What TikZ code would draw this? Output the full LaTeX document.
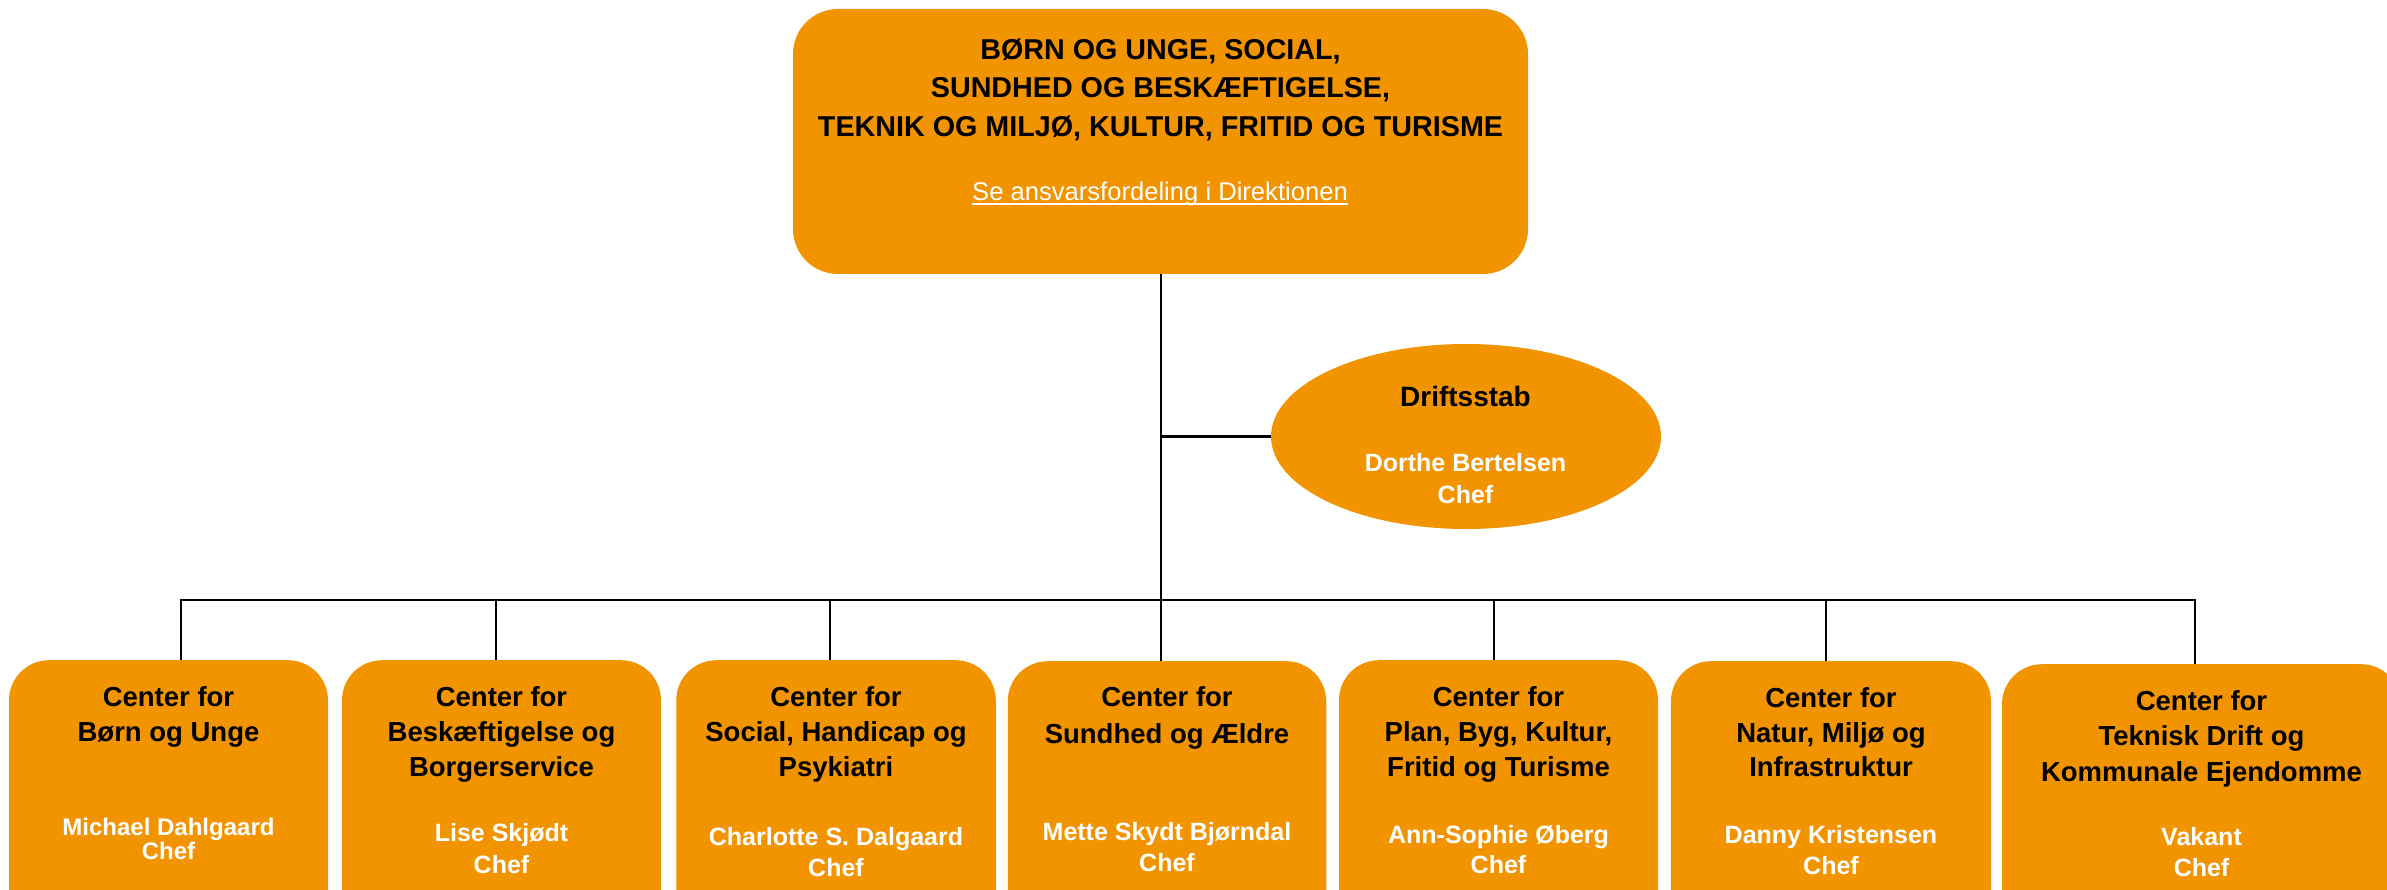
\documentclass[tikz,border=0pt]{standalone}
\usepackage{fontspec}
\setmainfont{Liberation Sans}
\usetikzlibrary{shapes.geometric}
\definecolor{orng}{RGB}{242,148,0}
\begin{document}
\begin{tikzpicture}[x=1pt,y=-1pt,
  box/.style={fill=orng, draw=none, rounded corners=40pt, minimum width=#1, minimum height=300pt, anchor=north, inner sep=0pt},
  conn/.style={draw=black, line width=2.2pt},
  head/.style={font=\fontsize{28.7}{34}\selectfont\bfseries, anchor=base, inner sep=0pt},
  lnk/.style={font=\fontsize{25.6}{30}\selectfont, text=white, anchor=base, inner sep=0pt},
  ttl/.style={font=\fontsize{27.5}{33}\selectfont\bfseries, anchor=base, inner sep=0pt},
  who/.style={font=\fontsize{25}{30}\selectfont\bfseries, text=white, anchor=base, inner sep=0pt},
  whos/.style={font=\fontsize{24}{29}\selectfont\bfseries, text=white, anchor=base, inner sep=0pt}
]
\useasboundingbox (0,0) rectangle (2387,890);
\clip (0,0) rectangle (2387,890);
\fill[white] (0,0) rectangle (2387,890);

% shapes
\node[fill=orng, draw=none, rounded corners=45pt, minimum width=735pt, minimum height=265pt, inner sep=0pt] (top) at (1160.5,141.5) {};
\node[ellipse, fill=orng, draw=none, minimum width=390pt, minimum height=185pt, inner sep=0pt] (drift) at (1466,436.5) {};
\node[box=319pt] (b1) at (168.5,660) {};
\node[box=319pt] (b2) at (501.5,660) {};
\node[box=319.5pt] (b3) at (836,660) {};
\node[box=318.5pt] (b4) at (1167,661) {};
\node[box=319pt] (b5) at (1498.5,660) {};
\node[box=320pt] (b6) at (1831,661) {};
\node[box=399pt] (b7) at (2201.5,664) {};

% connectors
\coordinate (d1) at (181,600);
\coordinate (d2) at (496,600);
\coordinate (d3) at (830,600);
\coordinate (d4) at (1161,600);
\coordinate (d5) at (1494,600);
\coordinate (d6) at (1826,600);
\coordinate (d7) at (2195,600);
\draw[conn] (top.south -| d4) -- (d4 |- b4.north);
\draw[conn] (top.south |- drift.west) -- (drift.west);
\draw[conn] (d1 |- b1.north) -- (d1) -- (d7) -- (d7 |- b7.north);
\draw[conn] (d2) -- (d2 |- b2.north);
\draw[conn] (d3) -- (d3 |- b3.north);
\draw[conn] (d5) -- (d5 |- b5.north);
\draw[conn] (d6) -- (d6 |- b6.north);

% top texts
\node[head] (h1) at (1160.5,59.3) {BØRN OG UNGE, SOCIAL,};
\node[head] (h2) at (1160.5,97.3) {SUNDHED OG BESKÆFTIGELSE,};
\node[head] (h3) at (1160.5,136.3) {TEKNIK OG MILJØ, KULTUR, FRITID OG TURISME};
\node[lnk] (hl) at (1160,201) {Se ansvarsfordeling i Direktionen};
\draw[white, line width=1.6pt] ([yshift=-3pt]hl.base west) -- ([yshift=-3pt]hl.base east);

% ellipse texts
\node[font=\fontsize{28}{33}\selectfont\bfseries, anchor=base, inner sep=0pt] (e1) at (1465.5,406.7) {Driftsstab};
\node[who] (e2) at (1465.5,471.7) {Dorthe Bertelsen};
\node[who] (e3) at (1465.5,503.3) {Chef};

% box 1
\node[ttl] (t1a) at (168.5,706) {Center for};
\node[ttl] (t1b) at (168.5,741) {Børn og Unge};
\node[whos] (n1a) at (168.5,835) {Michael Dahlgaard};
\node[whos] (n1b) at (168.5,859.3) {Chef};
% box 2
\node[ttl] (t2a) at (501.5,706) {Center for};
\node[ttl] (t2b) at (501.5,741) {Beskæftigelse og};
\node[ttl] (t2c) at (501.5,776.7) {Borgerservice};
\node[who] (n2a) at (501.5,841.7) {Lise Skjødt};
\node[who] (n2b) at (501.5,873.3) {Chef};
% box 3
\node[ttl] (t3a) at (836,706) {Center for};
\node[ttl] (t3b) at (836,741) {Social, Handicap og};
\node[ttl] (t3c) at (836,776) {Psykiatri};
\node[who] (n3a) at (836,845) {Charlotte S. Dalgaard};
\node[who] (n3b) at (836,876) {Chef};
% box 4
\node[ttl] (t4a) at (1167,706.7) {Center for};
\node[ttl] (t4b) at (1167,743.3) {Sundhed og Ældre};
\node[who] (n4a) at (1167,840) {Mette Skydt Bjørndal};
\node[who] (n4b) at (1167,871) {Chef};
% box 5
\node[ttl] (t5a) at (1498.5,706.7) {Center for};
\node[ttl] (t5b) at (1498.5,741.5) {Plan, Byg, Kultur,};
\node[ttl] (t5c) at (1498.5,776.7) {Fritid og Turisme};
\node[who] (n5a) at (1498.5,843.3) {Ann-Sophie Øberg};
\node[who] (n5b) at (1498.5,873.3) {Chef};
% box 6
\node[ttl] (t6a) at (1831,707.7) {Center for};
\node[ttl] (t6b) at (1831,742.3) {Natur, Miljø og};
\node[ttl] (t6c) at (1831,776.7) {Infrastruktur};
\node[who] (n6a) at (1831,843.3) {Danny Kristensen};
\node[who] (n6b) at (1831,874) {Chef};
% box 7
\node[ttl] (t7a) at (2201.5,710) {Center for};
\node[ttl] (t7b) at (2201.5,745.7) {Teknisk Drift og};
\node[ttl] (t7c) at (2201.5,781) {Kommunale Ejendomme};
\node[who] (n7a) at (2201.5,845.7) {Vakant};
\node[who] (n7b) at (2201.5,876.7) {Chef};
\end{tikzpicture}
\end{document}
